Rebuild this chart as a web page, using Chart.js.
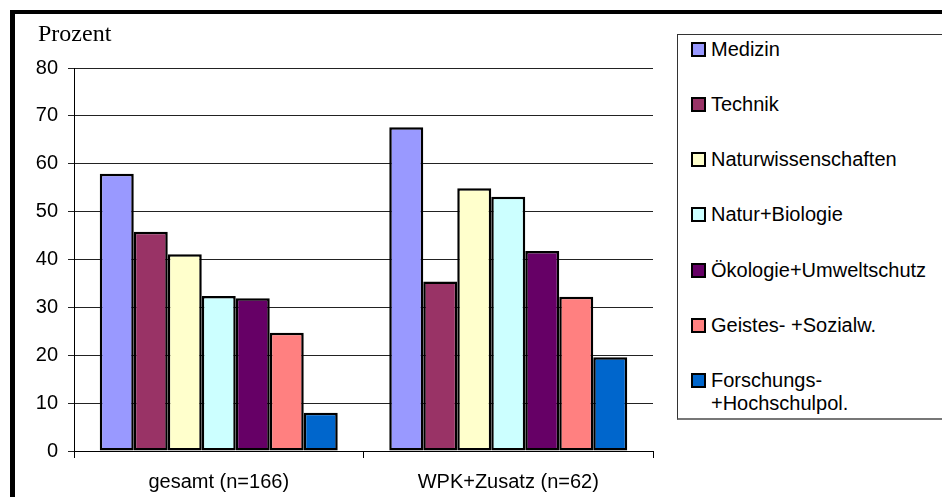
<!DOCTYPE html>
<html>
<head>
<meta charset="utf-8">
<script src="https://cdn.jsdelivr.net/npm/chart.js@4"></script>
<style>
  body { margin: 0; background: #fff; }
  #wrap { position: relative; width: 942px; height: 497px; overflow: hidden; }
  #frame {
    position: absolute; left: 10px; top: 10px; width: 960px; height: 520px;
    border-left: 5px solid #000; border-top: 4px solid #000;
  }
  #myChart { position: absolute; left: 0; top: 0; }
  #legend {
    position: absolute; left: 677px; top: 34px; width: 300px; height: 383px;
    border: 1px solid #333; border-bottom: 2px solid #777; background: #fff;
    font-family: 'Liberation Sans', Arial, sans-serif; font-size: 20px; color: #000;
  }
  .item { position: absolute; left: 13px; line-height: 23px; white-space: pre-line; padding-left: 20px; }
  .box {
    position: absolute; left: 0; top: 4px; width: 15px; height: 15px;
    box-sizing: border-box; border: 2px solid #000;
  }
</style>
</head>
<body>
<div id="wrap">
  <div id="frame"></div>
  <canvas id="myChart" width="942" height="497"></canvas>
  <div id="legend"></div>
</div>
<script>
// categories and series (percent)
const categories = ['gesamt (n=166)', 'WPK+Zusatz (n=62)'];
const seriesNames = ['Medizin', 'Technik', 'Naturwissenschaften', 'Natur+Biologie',
  'Ökologie+Umweltschutz', 'Geistes- +Sozialw.', 'Forschungs-\n+Hochschulpol.'];
const medizin = [57.9, 67.6];
const technik = [45.8, 35.4];
const naturwissenschaften = [41.1, 54.9];
const naturBiologie = [32.4, 53.1];
const oekologie = [31.9, 41.8];
const geistesSozial = [24.7, 32.2];
const forschung = [8.0, 19.6];
const yTicks = [0, 10, 20, 30, 40, 50, 60, 70, 80];

const colors = ['#9999FF', '#993366', '#FFFFCC', '#CCFFFF', '#660066', '#FF8080', '#0066CC'];
const allValues = [medizin, technik, naturwissenschaften, naturBiologie, oekologie, geistesSozial, forschung];

const font = 'Liberation Sans, Arial, sans-serif';

const prozentTitle = {
  id: 'prozentTitle',
  afterDraw(chart) {
    const c = chart.ctx;
    c.save();
    c.font = '24px "Liberation Serif", "Times New Roman", serif';
    c.fillStyle = '#000';
    c.textBaseline = 'alphabetic';
    c.fillText('Prozent', 38, 41);
    c.restore();
  }
};

const ctx = document.getElementById('myChart').getContext('2d');
const chart = new Chart(ctx, {
  type: 'bar',
  data: {
    labels: categories,
    datasets: seriesNames.map((name, i) => ({
      label: name,
      data: allValues[i],
      backgroundColor: colors[i],
      borderColor: '#000',
      borderWidth: 2.5,
      borderSkipped: false,
      categoryPercentage: 0.822,
      barPercentage: 1
    }))
  },
  options: {
    responsive: false,
    animation: false,
    layout: { padding: { left: 20, top: 68, right: 289, bottom: 0 } },
    plugins: {
      legend: { display: false },
      tooltip: { enabled: false }
    },
    scales: {
      x: {
        afterFit: s => { s.height = 46; },
        grid: { offset: true, drawOnChartArea: false, tickLength: 7, color: '#000' },
        border: { color: '#000', width: 1 },
        ticks: { color: '#000', font: { family: font, size: 20 }, padding: 12, maxRotation: 0 }
      },
      y: {
        min: 0,
        max: 80,
        afterFit: s => { s.width = 54; },
        afterBuildTicks: s => { s.ticks = yTicks.map(v => ({ value: v })); },
        grid: { color: '#222', tickLength: 6 },
        border: { color: '#000', width: 1 },
        ticks: { color: '#000', font: { family: font, size: 20 }, padding: 10 }
      }
    }
  },
  plugins: [prozentTitle]
});

// legend built from the chart's datasets
const legend = document.getElementById('legend');
chart.data.datasets.forEach((ds, i) => {
  const item = document.createElement('div');
  item.className = 'item';
  item.style.top = (14 + i * 55.3 - 11.5) + 'px';
  const box = document.createElement('span');
  box.className = 'box';
  box.style.background = ds.backgroundColor;
  item.appendChild(box);
  item.appendChild(document.createTextNode(ds.label));
  legend.appendChild(item);
});
</script>
</body>
</html>
